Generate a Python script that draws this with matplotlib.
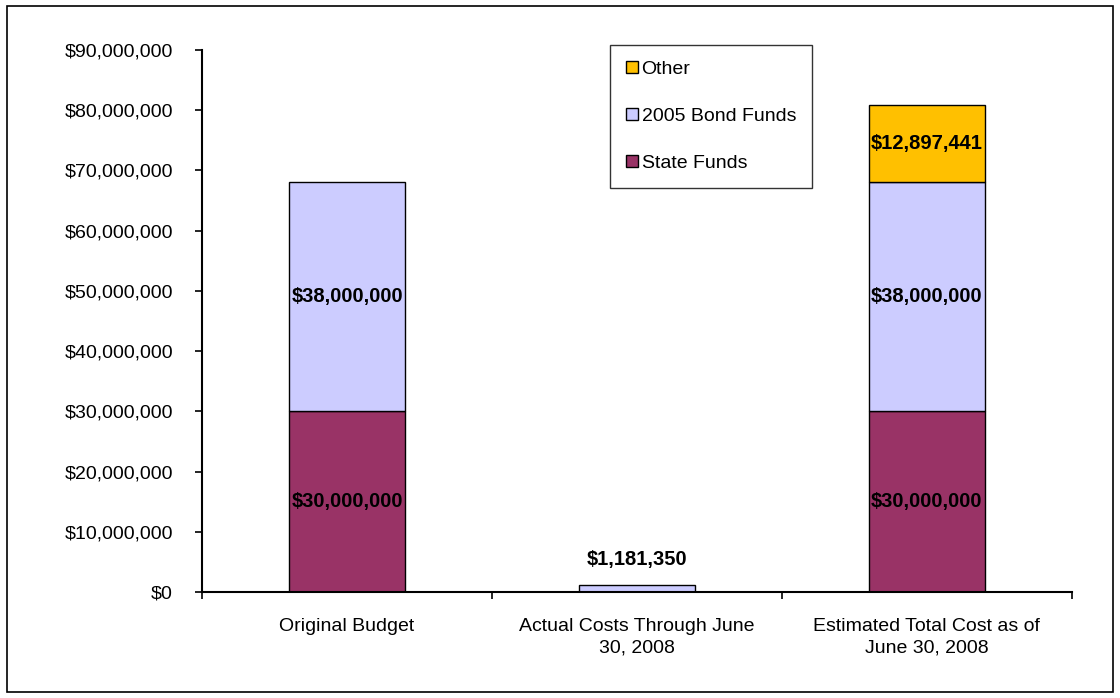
import matplotlib.pyplot as plt
from matplotlib.patches import Rectangle, Patch
from matplotlib.ticker import FuncFormatter
import numpy as np

plt.rcParams['font.family'] = ['Liberation Sans', 'DejaVu Sans']

categories = ["Original Budget", "Actual Costs Through June\n30, 2008",
              "Estimated Total Cost as of\nJune 30, 2008"]
state_funds = [30000000, 0, 30000000]
bond_funds = [38000000, 1181350, 38000000]
other_funds = [0, 0, 12897441]

colors = {'State Funds': '#993366', '2005 Bond Funds': '#CCCCFF', 'Other': '#FFC000'}

fig = plt.figure(figsize=(11.2, 6.98), dpi=100)
fig.patches.append(Rectangle((0.006, 0.009), 0.988, 0.982, transform=fig.transFigure,
                             fill=False, edgecolor='black', linewidth=1.2))
ax = fig.add_axes([0.1804, 0.1519, 0.7766, 0.7765])

x = np.arange(len(categories))
w = 0.4
state = np.array(state_funds)
bond = np.array(bond_funds)
other = np.array(other_funds)

b1 = ax.bar(x, state, w, color=colors['State Funds'], edgecolor='black', linewidth=1)
b2 = ax.bar(x, bond, w, bottom=state, color=colors['2005 Bond Funds'], edgecolor='black',
            linewidth=1)
b3 = ax.bar(x, other, w, bottom=state + bond, color=colors['Other'], edgecolor='black',
            linewidth=1)
# hide zero-height segments
for bars, vals in [(b1, state), (b3, other)]:
    for r, v in zip(bars, vals):
        if v == 0:
            r.set_visible(False)

def money(v):
    return '${:,.0f}'.format(v)

lab = dict(ha='center', va='center', fontsize=14.5, fontweight='bold')
for i in range(len(x)):
    if state[i]:
        ax.text(x[i], state[i] / 2, money(state[i]), **lab)
    if other[i]:
        ax.text(x[i], state[i] + bond[i] + other[i] / 2, money(other[i]), **lab)
    if bond[i] and state[i]:
        ax.text(x[i], state[i] + bond[i] / 2, money(bond[i]), **lab)
    elif bond[i]:
        ax.text(x[i], bond[i] + 4200000, money(bond[i]), **lab)

ax.set_xlim(-0.5, 2.5)
ax.set_ylim(0, 90000000)
ax.set_yticks(np.arange(0, 90000001, 10000000))
ax.yaxis.set_major_formatter(FuncFormatter(lambda v, p: money(v)))
ax.set_xticks([-0.5, 0.5, 1.5, 2.5])
ax.set_xticklabels([])
ax.set_xticks(x, minor=True)
ax.set_xticklabels(categories, minor=True, fontsize=14, linespacing=1.35)
ax.tick_params(axis='x', which='minor', length=0, pad=19)
ax.tick_params(axis='x', which='major', length=5, direction='out', width=1.2)
ax.tick_params(axis='y', length=5, direction='out', width=1.2, labelsize=14, pad=16)
for s in ['top', 'right']:
    ax.spines[s].set_visible(False)
for s in ['left', 'bottom']:
    ax.spines[s].set_linewidth(1.5)

names = ['Other', '2005 Bond Funds', 'State Funds']
handles = [Patch(facecolor=colors[n], edgecolor='black', linewidth=1) for n in names]
leg = ax.legend(handles, names, loc='upper left', bbox_to_anchor=(0.4695, 1.009),
                frameon=True, fancybox=False, edgecolor='black', fontsize=14,
                handlelength=0.6, handleheight=0.6, handletextpad=0.2,
                labelspacing=1.55, borderpad=0.8, borderaxespad=0)
leg.get_frame().set_linewidth(1)

fig.savefig('out.png', dpi=100)
